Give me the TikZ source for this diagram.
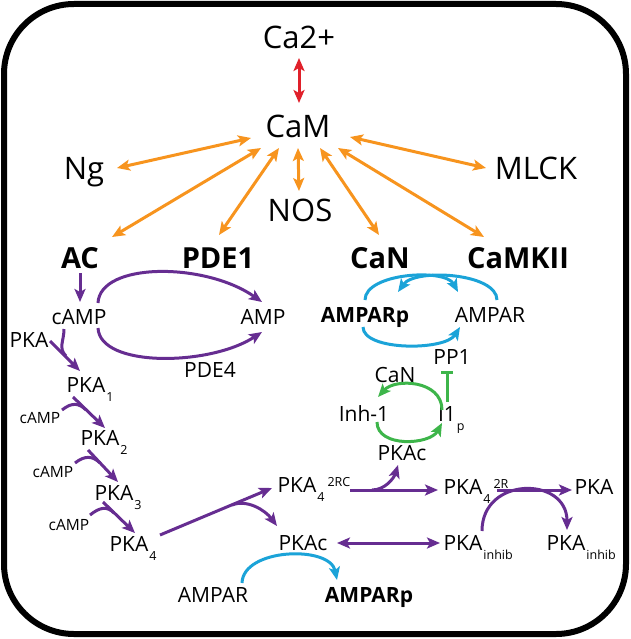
\documentclass[tikz,border=0pt]{standalone}
\usepackage{fontspec}
\setmainfont{Open Sans}
\usetikzlibrary{arrows.meta}
\definecolor{corange}{HTML}{F7941E}
\definecolor{cred}{HTML}{E0202A}
\definecolor{cpurple}{HTML}{662D91}
\definecolor{cblue}{HTML}{1BA3D8}
\definecolor{cgreen}{HTML}{3DB54A}
\newcommand\fL{\fontsize{31}{33}\selectfont}
\newcommand\fLB{\fontsize{29}{31}\selectfont\bfseries}
\newcommand\fM{\fontsize{21}{23}\selectfont}
\newcommand\fS{\fontsize{15.5}{17}\selectfont}
\newcommand\fT{\fontsize{12.5}{13}\selectfont}
\newcommand\sbs[1]{\rlap{\kern1pt\raisebox{-9pt}{\fT #1}}}
\newcommand\sbsup[2]{\rlap{\kern1pt\raisebox{-9pt}{\fT #1}\kern3pt\raisebox{6.5pt}{\fT #2}}}
\begin{document}
\begin{tikzpicture}[x=1pt,y=-1pt,
  lbl/.style={inner sep=0pt,text depth=0pt},
  L/.style={lbl,font=\fL,text height=22pt},
  LB/.style={lbl,font=\fLB,text height=20.7pt},
  M/.style={lbl,font=\fM,text height=15pt},
  MB/.style={lbl,font=\fM\bfseries,text height=15pt},
  S/.style={lbl,font=\fS,text height=11pt},
  >={Stealth[length=13pt,width=11pt,inset=3pt]},
  link/.style={line width=3pt},
  oarr/.style={link,color=corange,<->},
  rarr/.style={link,color=cred,<->},
  parr/.style={link,color=cpurple,->},
  pline/.style={link,color=cpurple},
  barr/.style={link,color=cblue,->},
  garr/.style={link,color=cgreen,->},
  gbar/.style={link,color=cgreen,-{Bar[width=12pt]}}]
\useasboundingbox (0,0) rectangle (630,639);
\draw[line width=6pt,rounded corners=70pt] (4,4) rectangle (626,634);
% top part
\node[L] (ca) at (299,38) {Ca2+};
\node[L] (cam) at (298,127) {CaM};
\node[L] (ng) at (84,168) {Ng};
\node[L] (mlck) at (536,168) {MLCK};
\node[L] (nos) at (300,210) {NOS};
\node[LB] (ac) at (80,258) {AC};
\node[LB] (pde1) at (218,258) {PDE1};
\node[LB] (can) at (380,258) {CaN};
\node[LB] (camkii) at (518,258) {CaMKII};
\draw[rarr] ([shift={(0,20)}]ca.center) -- ([shift={(1,-24)}]cam.center);
\draw[oarr] ([shift={(-47,11)}]cam.center) -- ([shift={(33,0)}]ng.center);
\draw[oarr] ([shift={(-37,21)}]cam.center) -- ([shift={(32,-21)}]ac.center);
\draw[oarr] ([shift={(-19,21)}]cam.center) -- ([shift={(1,-23)}]pde1.center);
\draw[oarr] ([shift={(0,21)}]cam.center) -- ([shift={(-1,-19)}]nos.center);
\draw[oarr] ([shift={(22,21)}]cam.center) -- ([shift={(-1,-23)}]can.center);
\draw[oarr] ([shift={(40,21)}]cam.center) -- ([shift={(-34,-21)}]camkii.center);
\draw[oarr] ([shift={(52,10)}]cam.center) -- ([shift={(-50,0)}]mlck.center);
% cAMP / AMP
\node[M] (camp) at (79,317) {cAMP};
\node[M] (amp) at (263,317) {AMP};
\node[M] (pde4) at (210,370) {PDE4};
\draw[parr] ([shift={(0,15)}]ac.center) -- ([shift={(1,-15)}]camp.center);
\draw[parr] ([shift={(19,-14)}]camp.center) .. controls (100,262) and (205,262) .. ([shift={(-1,-15)}]amp.center);
\draw[parr] ([shift={(19,11)}]camp.center) .. controls (100,368) and (210,366) .. ([shift={(-1,15)}]amp.center);
% PKA chain
\node[M] (pka0) at (29,340) {PKA};
\node[M] (pka1) at (86,385) {PKA\sbs{1}};
\node[S] (cs1) at (40,418) {cAMP};
\node[M] (pka2) at (100,438) {PKA\sbs{2}};
\node[S] (cs2) at (53,472) {cAMP};
\node[M] (pka3) at (114,493) {PKA\sbs{3}};
\node[S] (cs3) at (69,525) {cAMP};
\node[M] (pka4) at (129,544) {PKA\sbs{4}};
\coordinate (m1) at (66,356);
\coordinate (m2) at (86,410);
\coordinate (m3) at (100,463);
\coordinate (m4) at (114,513);
\draw[parr] ([shift={(21,1)}]pka0.center) -- ([shift={(-6,-14)}]pka1.center);
\draw[pline] ([shift={(-15,12)}]camp.center) .. controls +(0,12) and +(-8,-8) .. (m1);
\draw[parr] ([shift={(-13,12)}]pka1.center) -- ([shift={(5,-10)}]pka2.center);
\draw[pline] ([shift={(22,-8)}]cs1.center) .. controls +(10,-8) and +(-7,-7) .. (m2);
\draw[parr] ([shift={(-12,12)}]pka2.center) -- ([shift={(4,-11)}]pka3.center);
\draw[pline] ([shift={(22,-9)}]cs2.center) .. controls +(10,-8) and +(-7,-7) .. (m3);
\draw[parr] ([shift={(-11,9)}]pka3.center) -- ([shift={(6,-11)}]pka4.center);
\draw[pline] ([shift={(21,-10)}]cs3.center) .. controls +(10,-8) and +(-7,-7) .. (m4);
% lower right
\node[M] (pka2rc) at (297,485) {PKA\sbsup{4}{2RC}};
\node[M] (pkac2) at (303,543) {PKAc};
\node[M] (ampar2) at (213,595) {AMPAR};
\node[MB] (amparp2) at (369,595) {AMPARp};
\node[M] (pka2r) at (463,487) {PKA\sbsup{4}{2R}};
\node[M] (pkaend) at (594,487) {PKA};
\node[M] (inhib1) at (463,543) {PKA\sbs{inhib}};
\node[M] (inhib2) at (566,543) {PKA\sbs{inhib}};
\node[M] (pkac1) at (402,453) {PKAc};
\coordinate (b1) at (232,505);
\coordinate (b2) at (372,490);
\draw[parr] ([shift={(31,-9)}]pka4.center) -- ([shift={(-25,3)}]pka2rc.center);
\draw[parr] (b1) .. controls (247,499) and (265,510) .. ([shift={(-26,-17)}]pkac2.center);
\draw[parr] ([shift={(53,5)}]pka2rc.center) -- ([shift={(-25,3)}]pka2r.center);
\draw[parr] (b2) .. controls (385,490) and (394,478) .. ([shift={(-4,12)}]pkac1.center);
\draw[parr] ([shift={(34,3)}]pka2r.center) -- ([shift={(-22,3)}]pkaend.center);
\draw[parr] ([shift={(19,-12)}]inhib1.center) .. controls (482,476) and (567,476) .. ([shift={(1,-13)}]inhib2.center);
\draw[link,color=cpurple,<->] ([shift={(34,0)}]pkac2.center) -- ([shift={(-23,0)}]inhib1.center);
\draw[barr] ([shift={(29,-12)}]ampar2.center) .. controls (243,548) and (330,545) .. ([shift={(-32,-15)}]amparp2.center);
% AMPAR cycle
\node[MB] (amparp) at (365,315) {AMPARp};
\node[M] (ampar) at (490,315) {AMPAR};
\node[M] (pp1) at (452,357) {PP1};
\node[M] (can2) at (395,375) {CaN};
\node[M] (inh) at (364,414) {Inh-1};
\node[M] (i1) at (447,414) {I1\sbs{p}};
\draw[barr] ([shift={(7,-15)}]ampar.center) .. controls (497,273) and (415,268) .. ([shift={(33,-23)}]amparp.center);
\draw[barr] ([shift={(0,-15)}]amparp.center) .. controls (365,273) and (445,268) .. ([shift={(-32,-23)}]ampar.center);
\draw[barr] ([shift={(-2,12)}]amparp.center) .. controls (363,351) and (445,351) .. ([shift={(-30,12)}]ampar.center);
\draw[garr] ([shift={(-5,-4)}]i1.center) .. controls (442,380) and (395,378) .. ([shift={(14,-17)}]inh.center);
\draw[garr] ([shift={(13,8)}]inh.center) .. controls (377,448) and (430,445) .. ([shift={(-5,9)}]i1.center);
\draw[gbar] ([shift={(0,-12)}]i1.center) -- ([shift={(-5,14)}]pp1.center);
\end{tikzpicture}
\end{document}
